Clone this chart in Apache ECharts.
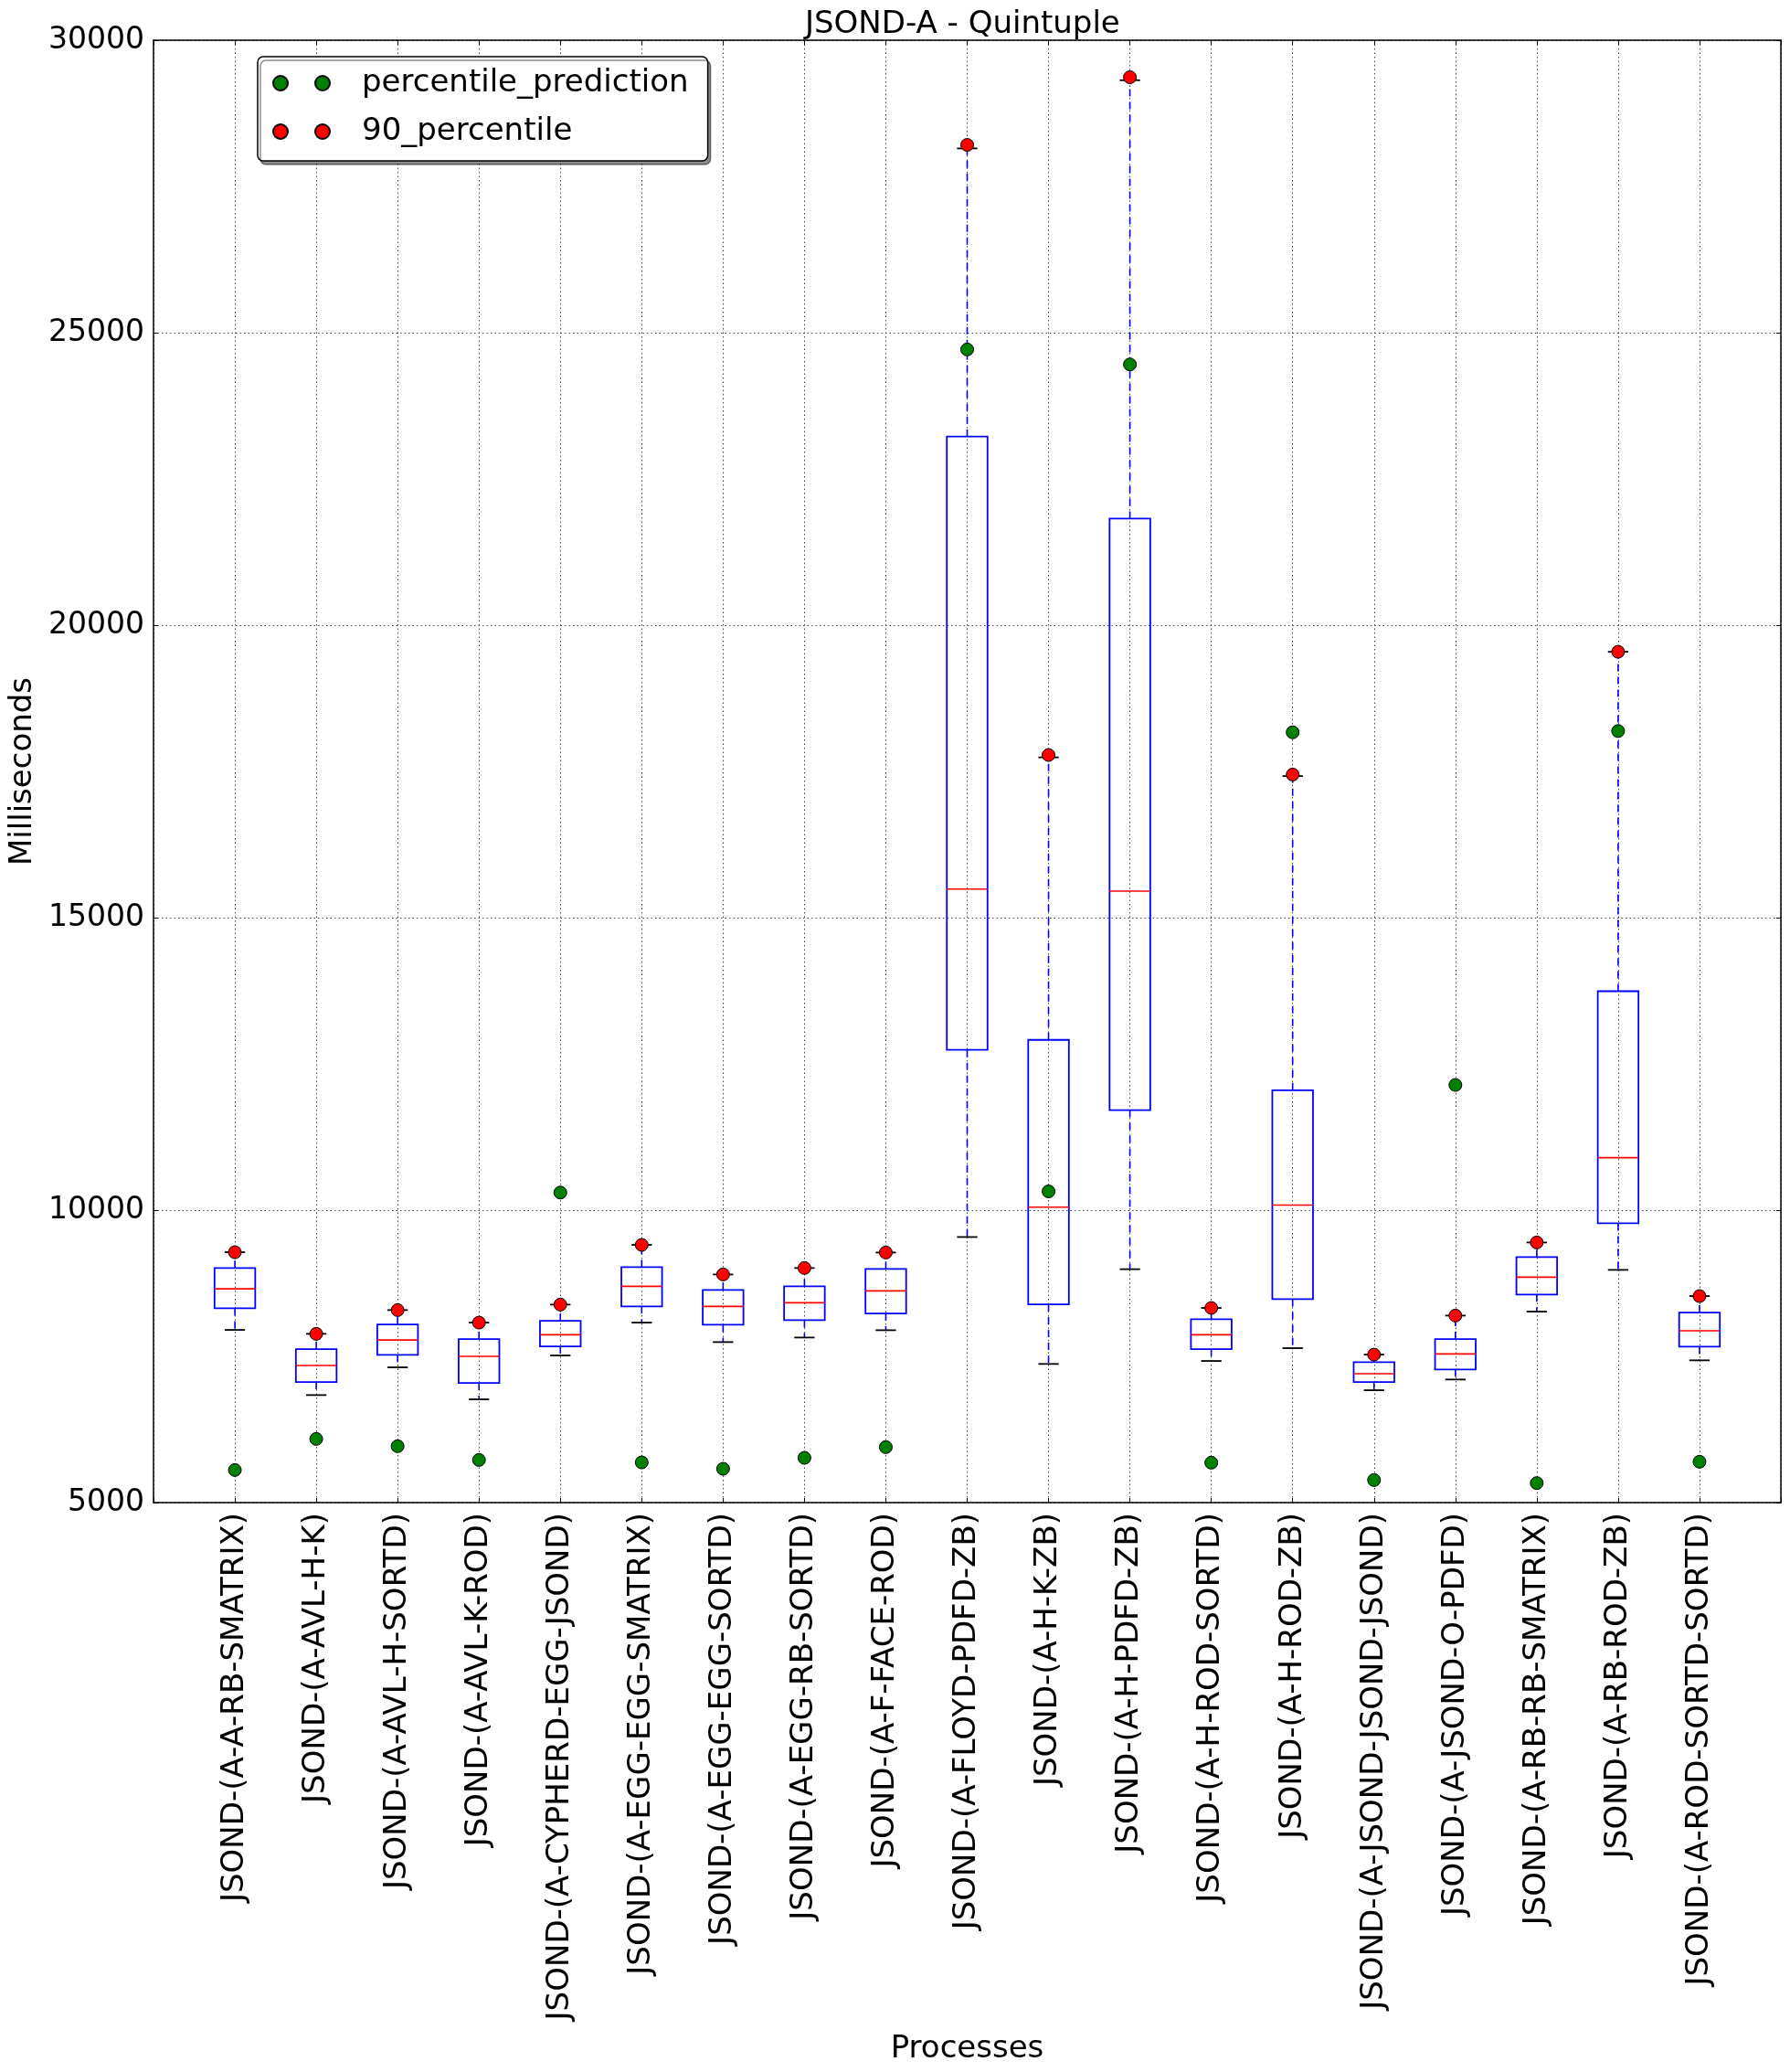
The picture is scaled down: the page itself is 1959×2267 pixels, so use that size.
<!DOCTYPE html>
<html>
<head>
<meta charset="utf-8">
<script src="https://cdn.jsdelivr.net/npm/echarts@6/dist/echarts.min.js"></script>
<style>
html,body{margin:0;padding:0;background:#fff;}
#chart{width:1959px;height:2267px;}
</style>
</head>
<body>
<div id="chart"></div>
<script>
const categories = [
  'JSOND-(A-A-RB-SMATRIX)',
  'JSOND-(A-AVL-H-K)',
  'JSOND-(A-AVL-H-SORTD)',
  'JSOND-(A-AVL-K-ROD)',
  'JSOND-(A-CYPHERD-EGG-JSOND)',
  'JSOND-(A-EGG-EGG-SMATRIX)',
  'JSOND-(A-EGG-EGG-SORTD)',
  'JSOND-(A-EGG-RB-SORTD)',
  'JSOND-(A-F-FACE-ROD)',
  'JSOND-(A-FLOYD-PDFD-ZB)',
  'JSOND-(A-H-K-ZB)',
  'JSOND-(A-H-PDFD-ZB)',
  'JSOND-(A-H-ROD-SORTD)',
  'JSOND-(A-H-ROD-ZB)',
  'JSOND-(A-JSOND-JSOND-JSOND)',
  'JSOND-(A-JSOND-O-PDFD)',
  'JSOND-(A-RB-RB-SMATRIX)',
  'JSOND-(A-RB-ROD-ZB)',
  'JSOND-(A-ROD-SORTD-SORTD)'
];
const whiskerLow  = [7952, 6838, 7312, 6765, 7515, 8077, 7744, 7822, 7947, 9540, 7370, 8990, 7421, 7640, 6921, 7104, 8265, 8978, 7432];
const q1          = [8322, 7062, 7526, 7046, 7671, 8354, 8041, 8119, 8233, 12740, 8390, 11710, 7624, 8478, 7062, 7276, 8557, 9775, 7666];
const median      = [8655, 7343, 7780, 7499, 7869, 8697, 8354, 8416, 8619, 15489, 10050, 15453, 7869, 10087, 7202, 7541, 8853, 10897, 7937];
const q3          = [9010, 7624, 8046, 7796, 8108, 9025, 8635, 8697, 8994, 23224, 12910, 21821, 8135, 12049, 7400, 7796, 9197, 13742, 8249];
const whiskerHigh = [9280, 7885, 8291, 8077, 8385, 9405, 8900, 9010, 9275, 28150, 17740, 29316, 8327, 17420, 7530, 8197, 9447, 19545, 8530];
const percentile90 = [9280, 7885, 8291, 8077, 8385, 9405, 8900, 9010, 9275, 28210, 17780, 29367, 8327, 17446, 7530, 8197, 9447, 19545, 8530];
const percentilePrediction = [5557, 6088, 5964, 5729, 10300, 5687, 5578, 5765, 5948, 24713, 10320, 24458, 5682, 18168, 5385, 12139, 5333, 18190, 5698];
const yTicks = [5000, 10000, 15000, 20000, 25000, 30000];

const FONT = 'DejaVu Sans';
const chart = echarts.init(document.getElementById('chart'), null, {renderer: 'canvas'});

const boxData = categories.map((c, i) => [i + 1, whiskerLow[i], q1[i], median[i], q3[i], whiskerHigh[i]]);
const greenData = categories.map((c, i) => [i + 1, percentilePrediction[i]]);
const redData = categories.map((c, i) => [i + 1, percentile90[i]]);

function renderBox(params, api) {
  const x = api.value(0);
  const pLow = api.coord([x, api.value(1)]);
  const pQ1 = api.coord([x, api.value(2)]);
  const pMed = api.coord([x, api.value(3)]);
  const pQ3 = api.coord([x, api.value(4)]);
  const pHigh = api.coord([x, api.value(5)]);
  const halfW = api.size([0.5, 0])[0] / 2;
  const capW = api.size([0.25, 0])[0] / 2;
  const cx = pMed[0];
  const blue = '#0000ff';
  return {
    type: 'group',
    children: [
      {type: 'line', shape: {x1: cx, y1: pQ1[1], x2: cx, y2: pLow[1]},
        style: {stroke: blue, lineWidth: 1.6, lineDash: [8, 6]}},
      {type: 'line', shape: {x1: cx, y1: pQ3[1], x2: cx, y2: pHigh[1]},
        style: {stroke: blue, lineWidth: 1.6, lineDash: [8, 6]}},
      {type: 'line', shape: {x1: cx - capW, y1: pLow[1], x2: cx + capW, y2: pLow[1]},
        style: {stroke: '#000', lineWidth: 1.8}},
      {type: 'line', shape: {x1: cx - capW, y1: pHigh[1], x2: cx + capW, y2: pHigh[1]},
        style: {stroke: '#000', lineWidth: 1.8}},
      {type: 'rect', shape: {x: cx - halfW, y: pQ3[1], width: 2 * halfW, height: pQ1[1] - pQ3[1]},
        style: {fill: 'none', stroke: blue, lineWidth: 1.8}},
      {type: 'line', shape: {x1: cx - halfW, y1: pMed[1], x2: cx + halfW, y2: pMed[1]},
        style: {stroke: '#ff0000', lineWidth: 1.6}}
    ]
  };
}

const dotted = {color: '#444', width: 1, type: [1.5, 3]};
const legendIcon = 'path://M0,8 A8,8 0 1,1 16,8 A8,8 0 1,1 0,8 Z M46,8 A8,8 0 1,1 62,8 A8,8 0 1,1 46,8 Z';

const option = {
  animation: false,
  backgroundColor: '#fff',
  textStyle: {fontFamily: FONT},
  title: {
    text: 'JSOND-A - Quintuple',
    left: 881, top: 10, padding: 0,
    textStyle: {fontFamily: FONT, fontSize: 34, fontWeight: 'normal', color: '#000'}
  },
  legend: {
    orient: 'vertical',
    left: 282, top: 62,
    padding: [9, 21, 12, 16],
    itemGap: 13,
    itemWidth: 62, itemHeight: 16,
    backgroundColor: '#fff',
    borderColor: '#000', borderWidth: 1.5, borderRadius: 6,
    shadowColor: 'rgba(0,0,0,0.45)', shadowOffsetX: 3, shadowOffsetY: 4, shadowBlur: 0,
    data: [
      {name: 'percentile_prediction', icon: legendIcon},
      {name: '90_percentile', icon: legendIcon}
    ],
    textStyle: {fontFamily: FONT, fontSize: 34, color: '#000', lineHeight: 40, padding: [0, 0, 0, 30]}
  },
  grid: {left: 168, right: 10, top: 44, bottom: 623, containLabel: false},
  xAxis: [{
    type: 'value', min: 0, max: 20, interval: 1,
    position: 'bottom',
    name: 'Processes', nameLocation: 'middle', nameGap: 581,
    nameTextStyle: {fontFamily: FONT, fontSize: 34, color: '#000'},
    axisLine: {onZero: false, lineStyle: {color: '#000', width: 1.5}},
    axisTick: {inside: true, length: 5, lineStyle: {color: '#000', width: 1}},
    splitLine: {show: true, lineStyle: dotted},
    axisLabel: {
      rotate: 90, margin: 11, fontFamily: FONT, fontSize: 34, color: '#000',
      formatter: v => (v >= 1 && v <= categories.length) ? categories[v - 1] : ''
    }
  }, {
    type: 'value', min: 0, max: 20, interval: 1,
    position: 'top',
    axisLine: {onZero: false, lineStyle: {color: '#000', width: 1.5}},
    axisTick: {inside: true, length: 5, lineStyle: {color: '#000', width: 1}},
    splitLine: {show: false},
    axisLabel: {show: false}
  }],
  yAxis: [{
    type: 'value', min: yTicks[0], max: yTicks[yTicks.length - 1], interval: 5000,
    position: 'left',
    name: 'Milliseconds', nameLocation: 'middle', nameGap: 118, nameRotate: 90,
    nameTextStyle: {fontFamily: FONT, fontSize: 34, color: '#000'},
    axisLine: {show: true, onZero: false, lineStyle: {color: '#000', width: 1.5}},
    axisTick: {show: true, inside: true, length: 5, lineStyle: {color: '#000', width: 1}},
    splitLine: {show: true, lineStyle: dotted},
    axisLabel: {margin: 10, fontFamily: FONT, fontSize: 33, color: '#000', formatter: v => String(v)}
  }, {
    type: 'value', min: yTicks[0], max: yTicks[yTicks.length - 1], interval: 5000,
    position: 'right',
    axisLine: {show: true, onZero: false, lineStyle: {color: '#000', width: 1.5}},
    axisTick: {show: true, inside: true, length: 5, lineStyle: {color: '#000', width: 1}},
    splitLine: {show: false},
    axisLabel: {show: false}
  }],
  series: [
    {
      type: 'custom', name: 'box',
      xAxisIndex: 0, yAxisIndex: 0,
      renderItem: renderBox,
      encode: {x: 0, y: [1, 2, 3, 4, 5]},
      data: boxData,
      z: 2
    },
    {
      type: 'scatter', name: 'percentile_prediction',
      xAxisIndex: 0, yAxisIndex: 0,
      data: greenData,
      symbol: 'circle', symbolSize: 14,
      itemStyle: {color: '#008000', borderColor: '#000', borderWidth: 1, opacity: 1},
      z: 5
    },
    {
      type: 'scatter', name: '90_percentile',
      xAxisIndex: 0, yAxisIndex: 0,
      data: redData,
      symbol: 'circle', symbolSize: 14,
      itemStyle: {color: '#ff0000', borderColor: '#000', borderWidth: 1, opacity: 1},
      z: 5
    }
  ]
};
chart.setOption(option);
</script>
</body>
</html>
